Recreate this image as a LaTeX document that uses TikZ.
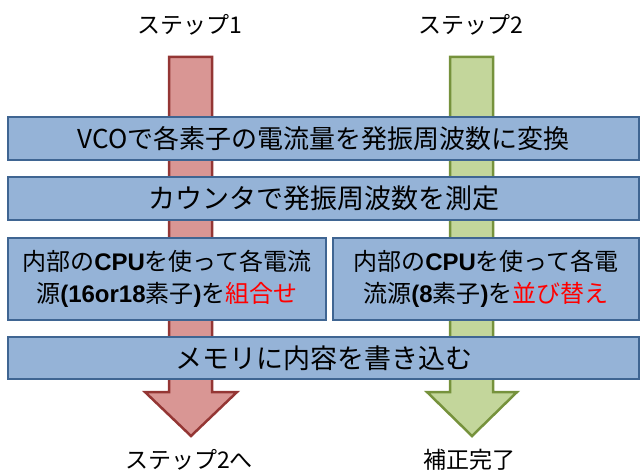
\documentclass[tikz,border=0pt]{standalone}
\usepackage{fontspec}
\setmainfont{Noto Sans CJK JP}
\newfontfamily\lsans{Liberation Sans}
\definecolor{barfill}{HTML}{95B3D7}
\definecolor{barline}{HTML}{3F6592}
\definecolor{redfill}{HTML}{D99694}
\definecolor{redline}{HTML}{943634}
\definecolor{grnfill}{HTML}{C3D69B}
\definecolor{grnline}{HTML}{76923C}
\definecolor{hilite}{HTML}{FF0000}
\newcommand{\lb}[1]{{\lsans\bfseries #1}}
\tikzset{
  bar/.style={draw=barline, fill=barfill, line width=2.5pt, inner sep=0pt, align=center,
    font=\fontsize{27}{32}\selectfont},
  cpubox/.style={bar, font=\fontsize{24}{32}\selectfont},
  lbl/.style={inner sep=0pt, font=\fontsize{23}{28}\selectfont},
  redarrow/.style={draw=redline, fill=redfill, line width=2.5pt, line join=miter},
  grnarrow/.style={draw=grnline, fill=grnfill, line width=2.5pt, line join=miter}
}
\begin{document}
\begin{tikzpicture}[x=1pt,y=-1pt]
\useasboundingbox (0,0) rectangle (640,473);
% labels
\node[lbl] (s1) at (190,25) {ステップ1};
\node[lbl] (s2) at (471,25) {ステップ2};
\node[lbl] (e1) at (189,460) {ステップ2へ};
\node[lbl] (e2) at (469,460) {補正完了};
% arrows
\draw[redarrow] (169,57) -- (212,57) -- (212,392) -- (237,392) -- (191,436) -- (145,392) -- (169,392) -- cycle;
\draw[grnarrow] (450,57) -- (493,57) -- (493,392) -- (517,392) -- (472,436) -- (427,392) -- (450,392) -- cycle;
% bars
\node[bar, font=\fontsize{26}{32}\selectfont, minimum width=631pt, minimum height=43pt] (b1) at (323.5,138.5) {VCOで各素子の電流量を発振周波数に変換};
\node[bar, minimum width=631pt, minimum height=43pt] (b2) at (323.5,198.5) {カウンタで発振周波数を測定};
\node[cpubox, minimum width=318pt, minimum height=82pt] (c1) at (167,279)
  {内部の\lb{CPU}を使って各電流\\源\lb{(16or18}素子\lb{)}を\textcolor{hilite}{組合せ}};
\node[cpubox, minimum width=306pt, minimum height=82pt] (c2) at (486,279)
  {内部の\lb{CPU}を使って各電\\流源\lb{(8}素子\lb{)}を\textcolor{hilite}{並び替え}};
\node[bar, minimum width=631pt, minimum height=42pt] (b3) at (323.5,358) {メモリに内容を書き込む};
\end{tikzpicture}
\end{document}
